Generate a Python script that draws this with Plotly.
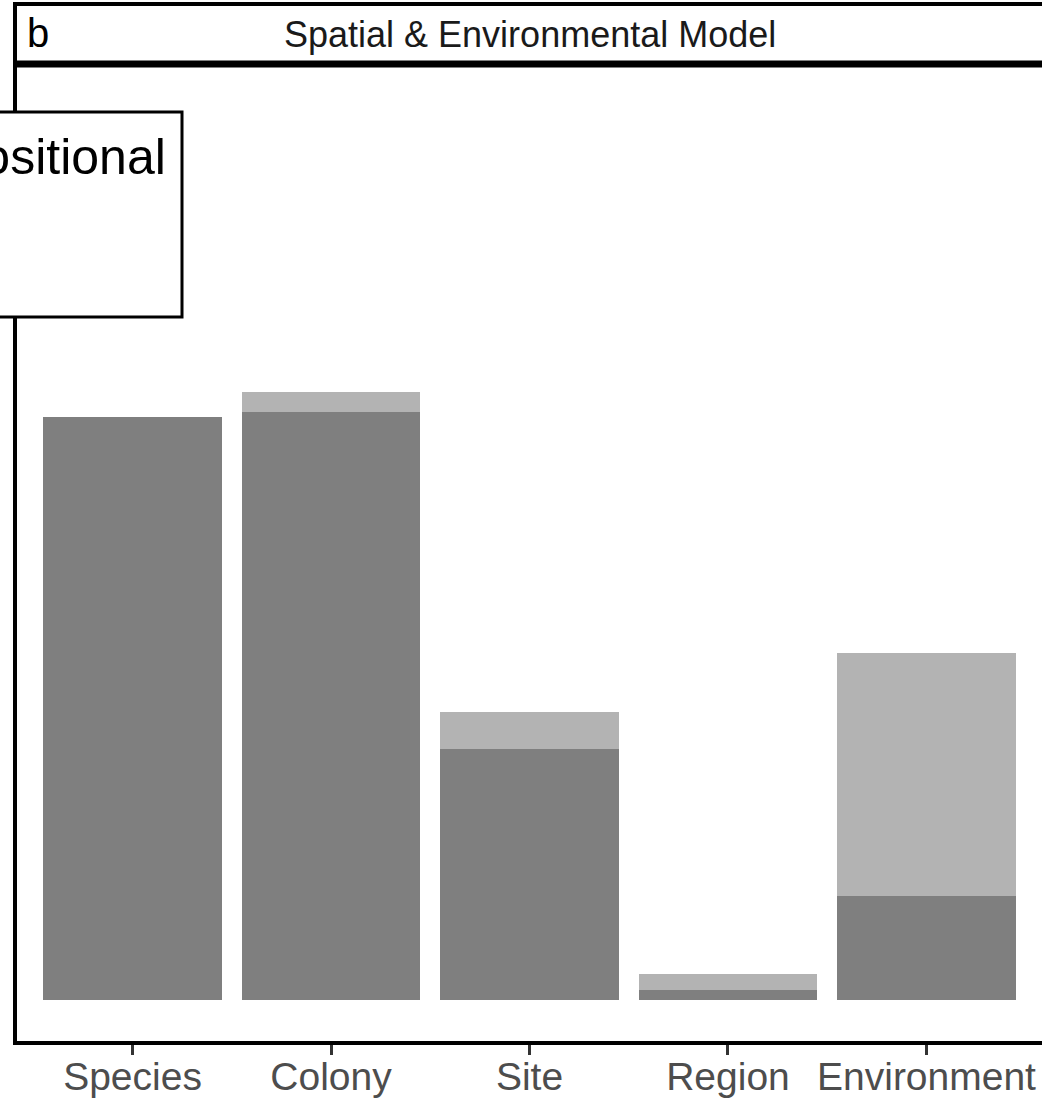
import plotly.graph_objects as go

# Variance components, Spatial & Environmental model
categories = ["Species", "Colony", "Site", "Region", "Environment"]
dark_values = [0.656, 0.662, 0.282, 0.011, 0.1165]
light_values = [0.0, 0.0225, 0.0417, 0.018, 0.2745]

panel_title = "Spatial & Environmental Model"
panel_tag = "b"
legend_title = "Compositional"

W, H = 1042, 1101
L, R, T, B = 17, 0, 66, 60
PW, PH = W - L - R, H - T - B


def px(x):
    return (x - L) / PW


def py(y):
    return (H - B - y) / PH


fig = go.Figure()
fig.add_trace(go.Bar(x=categories, y=dark_values, marker=dict(color="#7f7f7f", line=dict(width=0)),
                     width=0.9, showlegend=False))
fig.add_trace(go.Bar(x=categories, y=light_values, marker=dict(color="#b3b3b3", line=dict(width=0)),
                     width=0.9, showlegend=False))

font_family = "Liberation Sans, Arial, Helvetica, sans-serif"

fig.update_layout(
    width=W, height=H,
    margin=dict(l=L, r=R, t=T, b=B, pad=0),
    barmode="stack",
    paper_bgcolor="white", plot_bgcolor="white",
    font=dict(family=font_family),
    xaxis=dict(
        range=[-0.582, 4.582], showgrid=False, zeroline=False, automargin=False,
        showline=True, linecolor="black", linewidth=4,
        ticks="outside", ticklen=10, tickwidth=3, tickcolor="#333333",
        ticklabelstandoff=-12,
        tickfont=dict(size=39, color="#4d4d4d", family=font_family),
    ),
    yaxis=dict(
        range=[-0.0465, 1.0515], showgrid=False, zeroline=False, automargin=False,
        showline=True, linecolor="black", linewidth=4,
        showticklabels=False, ticks="",
    ),
    shapes=[
        # facet strip
        dict(type="rect", xref="paper", yref="paper", x0=px(15), x1=px(1100), y0=py(62.5), y1=py(4),
             line=dict(color="black", width=4), fillcolor="white", layer="above"),
        dict(type="line", xref="paper", yref="paper", x0=px(13), x1=px(1100), y0=py(65.5), y1=py(65.5),
             line=dict(color="black", width=4), layer="above"),
        # legend box
        dict(type="rect", xref="paper", yref="paper", x0=px(-30), x1=px(182), y0=py(317), y1=py(112),
             line=dict(color="black", width=3), fillcolor="white", layer="above"),
    ],
    annotations=[
        dict(text=panel_tag, xref="paper", yref="paper", x=px(25), y=py(33), xanchor="left", yanchor="middle",
             showarrow=False, font=dict(size=40, color="black", family=font_family)),
        dict(text=panel_title, xref="paper", yref="paper", x=px(530), y=py(34), xanchor="center",
             yanchor="middle", showarrow=False, font=dict(size=36, color="#1a1a1a", family=font_family)),
        dict(text=legend_title, xref="paper", yref="paper", x=px(168), y=py(157), xanchor="right",
             yanchor="middle", showarrow=False, font=dict(size=50, color="black", family=font_family)),
    ],
)

fig.write_html("out.html")
